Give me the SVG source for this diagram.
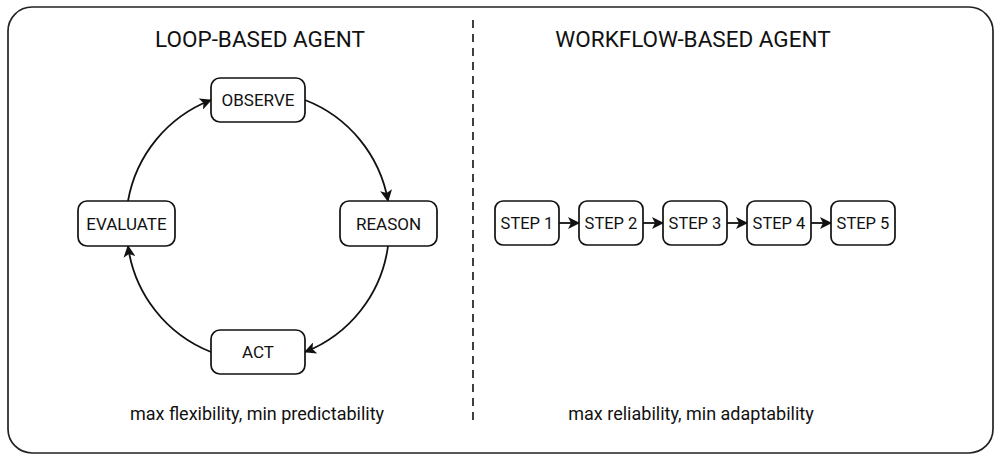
<svg xmlns="http://www.w3.org/2000/svg" width="1000" height="461" viewBox="0 0 1000 461">
<style>
.box{fill:#fff;stroke:#111;stroke-width:1.7}
.t{font-family:Roboto,"Liberation Sans",sans-serif;fill:#111;text-anchor:middle}
.n{font-size:17px}
.st{font-size:16.5px}
.h{font-size:22.5px}
.s{font-size:18px}
.c{fill:none;stroke:#111;stroke-width:1.8}
</style>
<defs>
<marker id="a" viewBox="0 0 12 12" refX="11" refY="6" markerWidth="12" markerHeight="12" markerUnits="userSpaceOnUse" orient="auto">
<path d="M0,0 L12,6 L0,12 L3,6 Z" fill="#111"/>
</marker>
</defs>
<rect x="0" y="0" width="1000" height="461" fill="#fff"/>
<rect x="8" y="7" width="985" height="446" rx="24" fill="#fff" stroke="#222" stroke-width="1.7"/>
<line x1="473" y1="20" x2="473" y2="426" stroke="#111" stroke-width="1.6" stroke-dasharray="8,6"/>
<text class="t h" x="260" y="47">LOOP-BASED AGENT</text>
<text class="t h" x="693" y="47">WORKFLOW-BASED AGENT</text>
<text class="t s" x="257" y="420">max flexibility, min predictability</text>
<text class="t s" x="691" y="420">max reliability, min adaptability</text>
<g id="connectors">
<path class="c" d="M128,201 A133,133 0 0 1 211,100" marker-end="url(#a)"/>
<path class="c" d="M305,100 A133,133 0 0 1 388,201" marker-end="url(#a)"/>
<path class="c" d="M388,246 A133,133 0 0 1 305,352" marker-end="url(#a)"/>
<path class="c" d="M211,352 A133,133 0 0 1 128,246" marker-end="url(#a)"/>
<path class="c" d="M559,223 L579,223" marker-end="url(#a)"/>
<path class="c" d="M643,223 L663,223" marker-end="url(#a)"/>
<path class="c" d="M727,223 L747,223" marker-end="url(#a)"/>
<path class="c" d="M811,223 L831,223" marker-end="url(#a)"/>
</g>
<g id="observe"><rect class="box" x="211" y="78" width="94" height="44" rx="9"/><text class="t n" x="258" y="106">OBSERVE</text></g>
<g id="reason"><rect class="box" x="340" y="201" width="97" height="45" rx="9"/><text class="t n" x="388.5" y="229.5">REASON</text></g>
<g id="act"><rect class="box" x="211" y="330" width="94" height="44" rx="9"/><text class="t n" x="258" y="358">ACT</text></g>
<g id="evaluate"><rect class="box" x="78" y="201" width="97" height="45" rx="9"/><text class="t n" x="126.5" y="229.5">EVALUATE</text></g>
<g id="step1"><rect class="box" x="495" y="201" width="64" height="44" rx="8"/><text class="t st" x="527" y="229">STEP 1</text></g>
<g id="step2"><rect class="box" x="579" y="201" width="64" height="44" rx="8"/><text class="t st" x="611" y="229">STEP 2</text></g>
<g id="step3"><rect class="box" x="663" y="201" width="64" height="44" rx="8"/><text class="t st" x="695" y="229">STEP 3</text></g>
<g id="step4"><rect class="box" x="747" y="201" width="64" height="44" rx="8"/><text class="t st" x="779" y="229">STEP 4</text></g>
<g id="step5"><rect class="box" x="831" y="201" width="64" height="44" rx="8"/><text class="t st" x="863" y="229">STEP 5</text></g>
</svg>
